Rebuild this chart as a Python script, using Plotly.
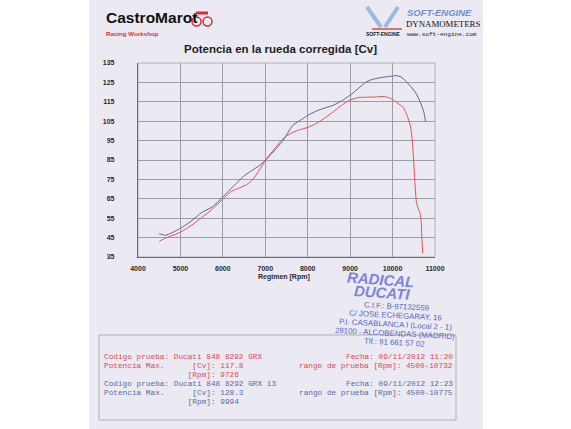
import plotly.graph_objects as go

# canvas and plot-area margins (px)
W, H = 571, 429
ML, MR, MT, MB = 138, 136, 63, 172

# run 1: Ducati 848 8292 GRX (red)
rpm_grx = [4500, 4600, 4750, 5000, 5250, 5500, 5750, 6000, 6200, 6400, 6550, 6700,
           6850, 7000, 7200, 7400, 7600, 7800, 8000, 8200, 8400, 8600, 8800, 9000,
           9200, 9400, 9600, 9726, 9850, 9950, 10050, 10150, 10250, 10350, 10420,
           10460, 10490, 10520, 10560, 10600, 10640, 10670, 10690, 10710]
cv_grx = [42.9, 44.3, 45.6, 47.8, 51.2, 55.3, 59.6, 64.8, 68.8, 70.7, 72.2, 74.8,
          79.5, 84.8, 90.3, 95.6, 98.8, 100.5, 101.8, 103.8, 106.6, 109.8, 113.2, 116.0,
          117.2, 117.4, 117.5, 117.8, 117.5, 116.8, 115.4, 113.8, 112.2, 107.5, 102.5,
          96.0, 87.0, 76.0, 63.5, 60.2, 58.0, 54.5, 45.0, 37.0]

# run 2: Ducati 848 8292 GRX 13 (blue)
rpm_grx13 = [4500, 4650, 4800, 5000, 5250, 5500, 5750, 6000, 6250, 6500, 6700, 6850,
             7000, 7200, 7400, 7650, 7850, 8000, 8200, 8400, 8600, 8800, 9000, 9200,
             9350, 9500, 9700, 9850, 10000, 10100, 10200, 10300, 10400, 10550, 10650,
             10740, 10775]
cv_grx13 = [47.0, 46.2, 47.5, 49.8, 53.4, 57.9, 60.8, 65.9, 71.5, 76.8, 79.8, 82.0,
            84.8, 89.5, 94.5, 102.9, 105.8, 108.0, 110.2, 111.8, 113.2, 115.5, 118.4, 122.0,
            124.8, 126.4, 127.4, 127.9, 128.3, 128.5, 127.8, 126.0, 123.6, 119.5, 115.0,
            109.5, 104.8]

x_ticks = list(range(4000, 11001, 1000))
x_labels = [str(v) for v in x_ticks]
y_ticks = list(range(35, 136, 10))
y_labels = [str(v) for v in y_ticks]

stamp_lines = ["C.I.F.: B-97132559", "C/ JOSÉ ECHEGARAY, 16",
               "P.I. CASABLANCA I (Local 2 - 1)", "28100 - ALCOBENDAS (MADRID)",
               "Tlf.: 91 661 57 02"]

red_lines = ["Codigo prueba: Ducati 848 8292 GRX",
             "Potencia Max.      [Cv]: 117.8",
             "                  [Rpm]: 9726"]
red_right = ["Fecha: 09/11/2012 11:20", "rango de prueba [Rpm]: 4500-10732"]
blue_lines = ["Codigo prueba: Ducati 848 8292 GRX 13",
              "Potencia Max.      [Cv]: 128.3",
              "                  [Rpm]: 9994"]
blue_right = ["Fecha: 09/11/2012 12:23", "rango de prueba [Rpm]: 4500-10775"]

PAGE = '#ebe9f2'
RED = '#e4505a'
BLUE = '#5c6394'
INK_RED = '#de4a52'
INK_BLUE = '#5d6aa6'
STAMP = '#5a62c8'
MONO = 'Liberation Mono, Courier New, monospace'
SANS = 'Liberation Sans, Arial, sans-serif'


def px(x):
    return (x - ML) / (W - ML - MR)


def py(y):
    return (H - MB - y) / (H - MT - MB)


fig = go.Figure()

fig.add_trace(go.Scatter(
    x=rpm_grx13, y=cv_grx13, mode='lines',
    line=dict(color=BLUE, width=1, shape='spline', smoothing=0.5),
    hoverinfo='skip'
))
fig.add_trace(go.Scatter(
    x=rpm_grx, y=cv_grx, mode='lines',
    line=dict(color=RED, width=1, shape='spline', smoothing=0.5),
    hoverinfo='skip'
))

shapes = [
    # scanned page
    dict(type='rect', xref='paper', yref='paper', x0=px(89), x1=px(483),
         y0=py(0), y1=py(H), fillcolor=PAGE, line=dict(width=0), layer='below'),
    # plot frame (top / right)
    dict(type='rect', xref='paper', yref='paper', x0=0, x1=1, y0=0, y1=1,
         line=dict(color='#a3a3ae', width=0.8), layer='above'),
    # results box
    dict(type='rect', xref='paper', yref='paper', x0=px(99), x1=px(456),
         y0=py(335), y1=py(420), line=dict(color='#a9b6a0', width=1)),
    # soft-engine logo pistons
    dict(type='line', xref='paper', yref='paper', x0=px(367), y0=py(7),
         x1=px(381), y1=py(27), line=dict(color='#9cb9e2', width=4)),
    dict(type='line', xref='paper', yref='paper', x0=px(398), y0=py(7),
         x1=px(385), y1=py(27), line=dict(color='#9cb9e2', width=4)),
    dict(type='line', xref='paper', yref='paper', x0=px(372), y0=py(29),
         x1=px(402), y1=py(29), line=dict(color='#c0504d', width=1.5)),
    # motorcycle mark
    dict(type='circle', xref='paper', yref='paper', x0=px(192), x1=px(201),
         y0=py(17), y1=py(26), line=dict(color='#d0303a', width=1.5)),
    dict(type='circle', xref='paper', yref='paper', x0=px(203), x1=px(212),
         y0=py(17), y1=py(26), line=dict(color='#d0303a', width=1.5)),
    dict(type='line', xref='paper', yref='paper', x0=px(196), y0=py(13),
         x1=px(208), y1=py(13), line=dict(color='#d0303a', width=3)),
]

annotations = []


def note(text, x, y, size, color, family=SANS, anchor='left', weight='normal',
         style='normal', angle=0):
    annotations.append(dict(
        text=text, x=px(x), y=py(y), xref='paper', yref='paper',
        xanchor=anchor, yanchor='middle', showarrow=False, textangle=angle,
        font=dict(family=family, size=size, color=color, weight=weight, style=style)
    ))


# header
note('CastroMarot', 104, 18, 15.5, '#111111', weight='bold')
note('Racing Workshop', 104, 33, 6.2, '#d8303a', weight='bold')
note('SOFT-ENGINE', 405, 12, 9.5, '#6d8fd6', weight='bold', style='italic')
note('DYNAMOMETERS', 404, 23.5, 8.8, '#111111', family='Liberation Serif, Times New Roman, serif')
note('www.soft-engine.com', 405, 34, 6.1, '#222222', family=MONO)
note('SOFT-ENGINE', 364, 34, 5, '#222222', weight='bold')

# chart title and axis title
note('Potencia en la rueda corregida [Cv]', 182, 49, 11.5, '#1e1e1e', weight='bold')
note('Regimen [Rpm]', 284, 277, 7, '#2a2a2a', anchor='center', weight='bold')

# stamp
note('RADICAL', 381, 279, 15, '#7c84dc', anchor='center', weight='bold',
     style='italic', angle=4)
note('DUCATI', 382, 292, 15, '#7c84dc', anchor='center', weight='bold',
     style='italic', angle=4)
for i, line in enumerate(stamp_lines):
    note(line, 396 - i * 0.5, 306 + i * 9.2, 7.8, STAMP, anchor='center', angle=3)

# results box text
for i, line in enumerate(red_lines):
    note(line, 102, 357 + i * 8.8, 7.75, INK_RED, family=MONO)
for i, line in enumerate(red_right):
    note(line, 455, 357 + i * 8.8, 7.75, INK_RED, family=MONO, anchor='right')
for i, line in enumerate(blue_lines):
    note(line, 102, 384 + i * 8.8, 7.75, INK_BLUE, family=MONO)
for i, line in enumerate(blue_right):
    note(line, 455, 384 + i * 8.8, 7.75, INK_BLUE, family=MONO, anchor='right')

fig.update_layout(
    width=W, height=H,
    margin=dict(l=ML, r=MR, t=MT, b=MB),
    paper_bgcolor='white',
    plot_bgcolor=PAGE,
    showlegend=False,
    shapes=shapes,
    annotations=annotations,
    xaxis=dict(
        range=[4000, 11000], tickvals=x_ticks, ticktext=x_labels, ticks='',
        ticklabelstandoff=4,
        showgrid=True, gridcolor='#9c9ca8', gridwidth=0.8, zeroline=False,
        showline=True, linecolor='#4a4a55', linewidth=1.2,
        tickfont=dict(family=SANS, size=7, color='#2a2a2a', weight='bold')
    ),
    yaxis=dict(
        range=[35, 135], tickvals=y_ticks, ticktext=y_labels, ticks='',
        ticklabelstandoff=21,
        showgrid=True, gridcolor='#9c9ca8', gridwidth=0.8, zeroline=False,
        showline=True, linecolor='#4a4a55', linewidth=1.2,
        tickfont=dict(family=SANS, size=7, color='#2a2a2a', weight='bold')
    ),
)

# page default body margin would offset the figure by 8px
fig.write_html("out.html", config={'displayModeBar': False},
               post_script="document.body.style.margin='0';")
